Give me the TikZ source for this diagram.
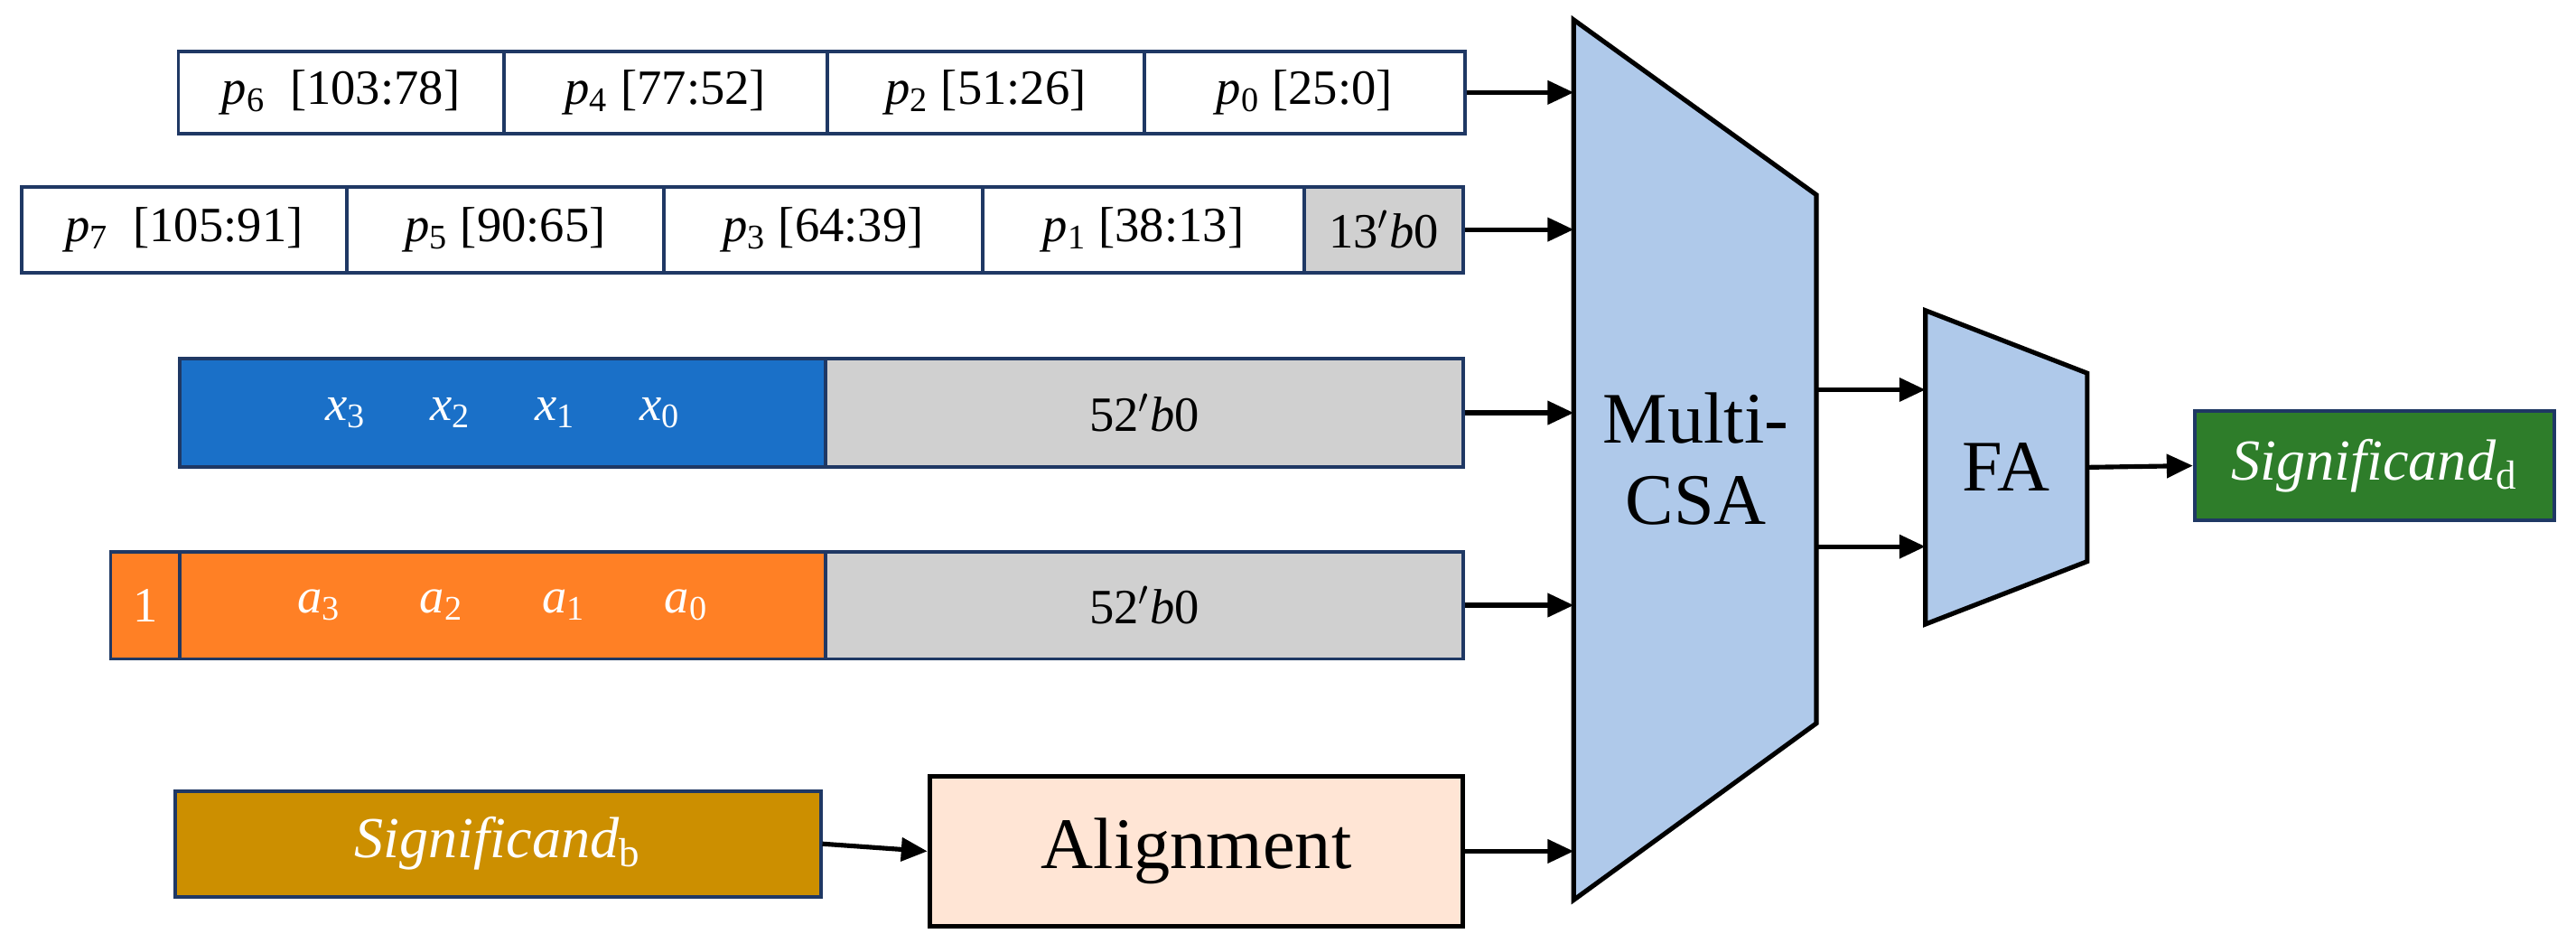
\documentclass[tikz,border=0pt]{standalone}
\usepackage{fontspec}
\setmainfont{Liberation Serif}
\usetikzlibrary{arrows.meta}
\definecolor{navy}{HTML}{1F3864}
\definecolor{xblue}{HTML}{1A70C8}
\definecolor{aor}{HTML}{FF8025}
\definecolor{zg}{HTML}{D0D0D0}
\definecolor{gold}{HTML}{CC8F00}
\definecolor{peach}{HTML}{FFE5D5}
\definecolor{csab}{HTML}{AFC9EA}
\definecolor{dgreen}{HTML}{2E7D2A}
\newcommand{\blk}[7][]{\node[blk,#1,minimum width={(#5-#3)*0.02cm},minimum height={(#6-#4)*0.02cm}] (#2) at ({(#3+#5)/2},{(#4+#6)/2}) {#7};}
\newcommand{\vi}[2]{\textit{#1}\textsubscript{#2}}
\begin{document}
\begin{tikzpicture}[x=0.02cm,y=-0.02cm,
  blk/.style={draw=navy,line width=1.2pt,inner sep=0pt,fill=white,font=\fontsize{17}{20}\selectfont},
  arr/.style={-{Triangle[length=9pt,width=8pt]},line width=1.6pt},
  trap/.style={draw=black,line width=1.6pt,fill=csab,line join=miter}]
\useasboundingbox (0,0) rectangle (1560,571);
% row 1
\blk{p6}{108}{31}{305}{81}{\vi{p}{6}\ \ [103:78]}
\blk{p4}{305}{31}{501}{81}{\vi{p}{4} [77:52]}
\blk{p2}{501}{31}{693}{81}{\vi{p}{2} [51:26]}
\blk{p0}{693}{31}{887}{81}{\vi{p}{0} [25:0]}
% row 2
\blk{p7}{13}{113}{210}{165}{\vi{p}{7}\ \ [105:91]}
\blk{p5}{210}{113}{402}{165}{\vi{p}{5} [90:65]}
\blk{p3}{402}{113}{595}{165}{\vi{p}{3} [64:39]}
\blk{p1}{595}{113}{790}{165}{\vi{p}{1} [38:13]}
\blk[fill=zg]{z13}{790}{113}{886}{165}{13$'$\textit{b}0}
% row 3
\blk[fill=xblue,text=white]{xs}{109}{217}{500}{283}{\vi{x}{3}\hspace{1.3em}\vi{x}{2}\hspace{1.3em}\vi{x}{1}\hspace{1.3em}\vi{x}{0}}
\blk[fill=zg]{z52a}{500}{217}{886}{283}{52$'$\textit{b}0}
% row 4
\blk[fill=aor,text=white]{one}{67}{334}{109}{399}{1}
\blk[fill=aor,text=white]{as}{109}{334}{500}{399}{\vi{a}{3}\hspace{1.6em}\vi{a}{2}\hspace{1.6em}\vi{a}{1}\hspace{1.6em}\vi{a}{0}}
\blk[fill=zg]{z52b}{500}{334}{886}{399}{52$'$\textit{b}0}
% row 5
\blk[fill=gold,text=white,font=\fontsize{20}{24}\selectfont]{sb}{106}{479}{497}{543}{\vi{Significand}{b}}
\blk[draw=black,line width=1.6pt,fill=peach,font=\fontsize{25}{30}\selectfont]{al}{563}{470}{886}{561}{Alignment}
% Multi-CSA
\draw[trap] (953,12) -- (1100,118) -- (1100,438) -- (953,545) -- cycle;
\node[font=\fontsize{25}{28}\selectfont,align=center] (csa) at (1027,278) {Multi-\\CSA};
\coordinate (csaL) at (953,0);
\coordinate (csaR) at (1100,0);
% FA
\draw[trap] (1166,188) -- (1264,226) -- (1264,340) -- (1166,378) -- cycle;
\node[font=\fontsize{25}{28}\selectfont] (fa) at (1215,283) {FA};
\coordinate (faL) at (1166,0);
\coordinate (faR) at (1264,283);
\blk[fill=dgreen,text=white,font=\fontsize{20}{24}\selectfont]{sd}{1329}{249}{1547}{315}{\vi{Significand}{d}}
% arrows
\draw[arr] (p0.east) -- (p0.east -| csaL);
\draw[arr] (z13.east) -- (z13.east -| csaL);
\draw[arr] (z52a.east) -- (z52a.east -| csaL);
\draw[arr] (z52b.east) -- (z52b.east -| csaL);
\draw[arr] (sb.east) -- (al.west);
\draw[arr] (al.east) -- (al.east -| csaL);
\coordinate (o1) at (1100,236);
\coordinate (o2) at (1100,331);
\draw[arr] (o1) -- (o1 -| faL);
\draw[arr] (o2) -- (o2 -| faL);
\draw[arr] (faR) -- (sd.west);
\end{tikzpicture}
\end{document}
